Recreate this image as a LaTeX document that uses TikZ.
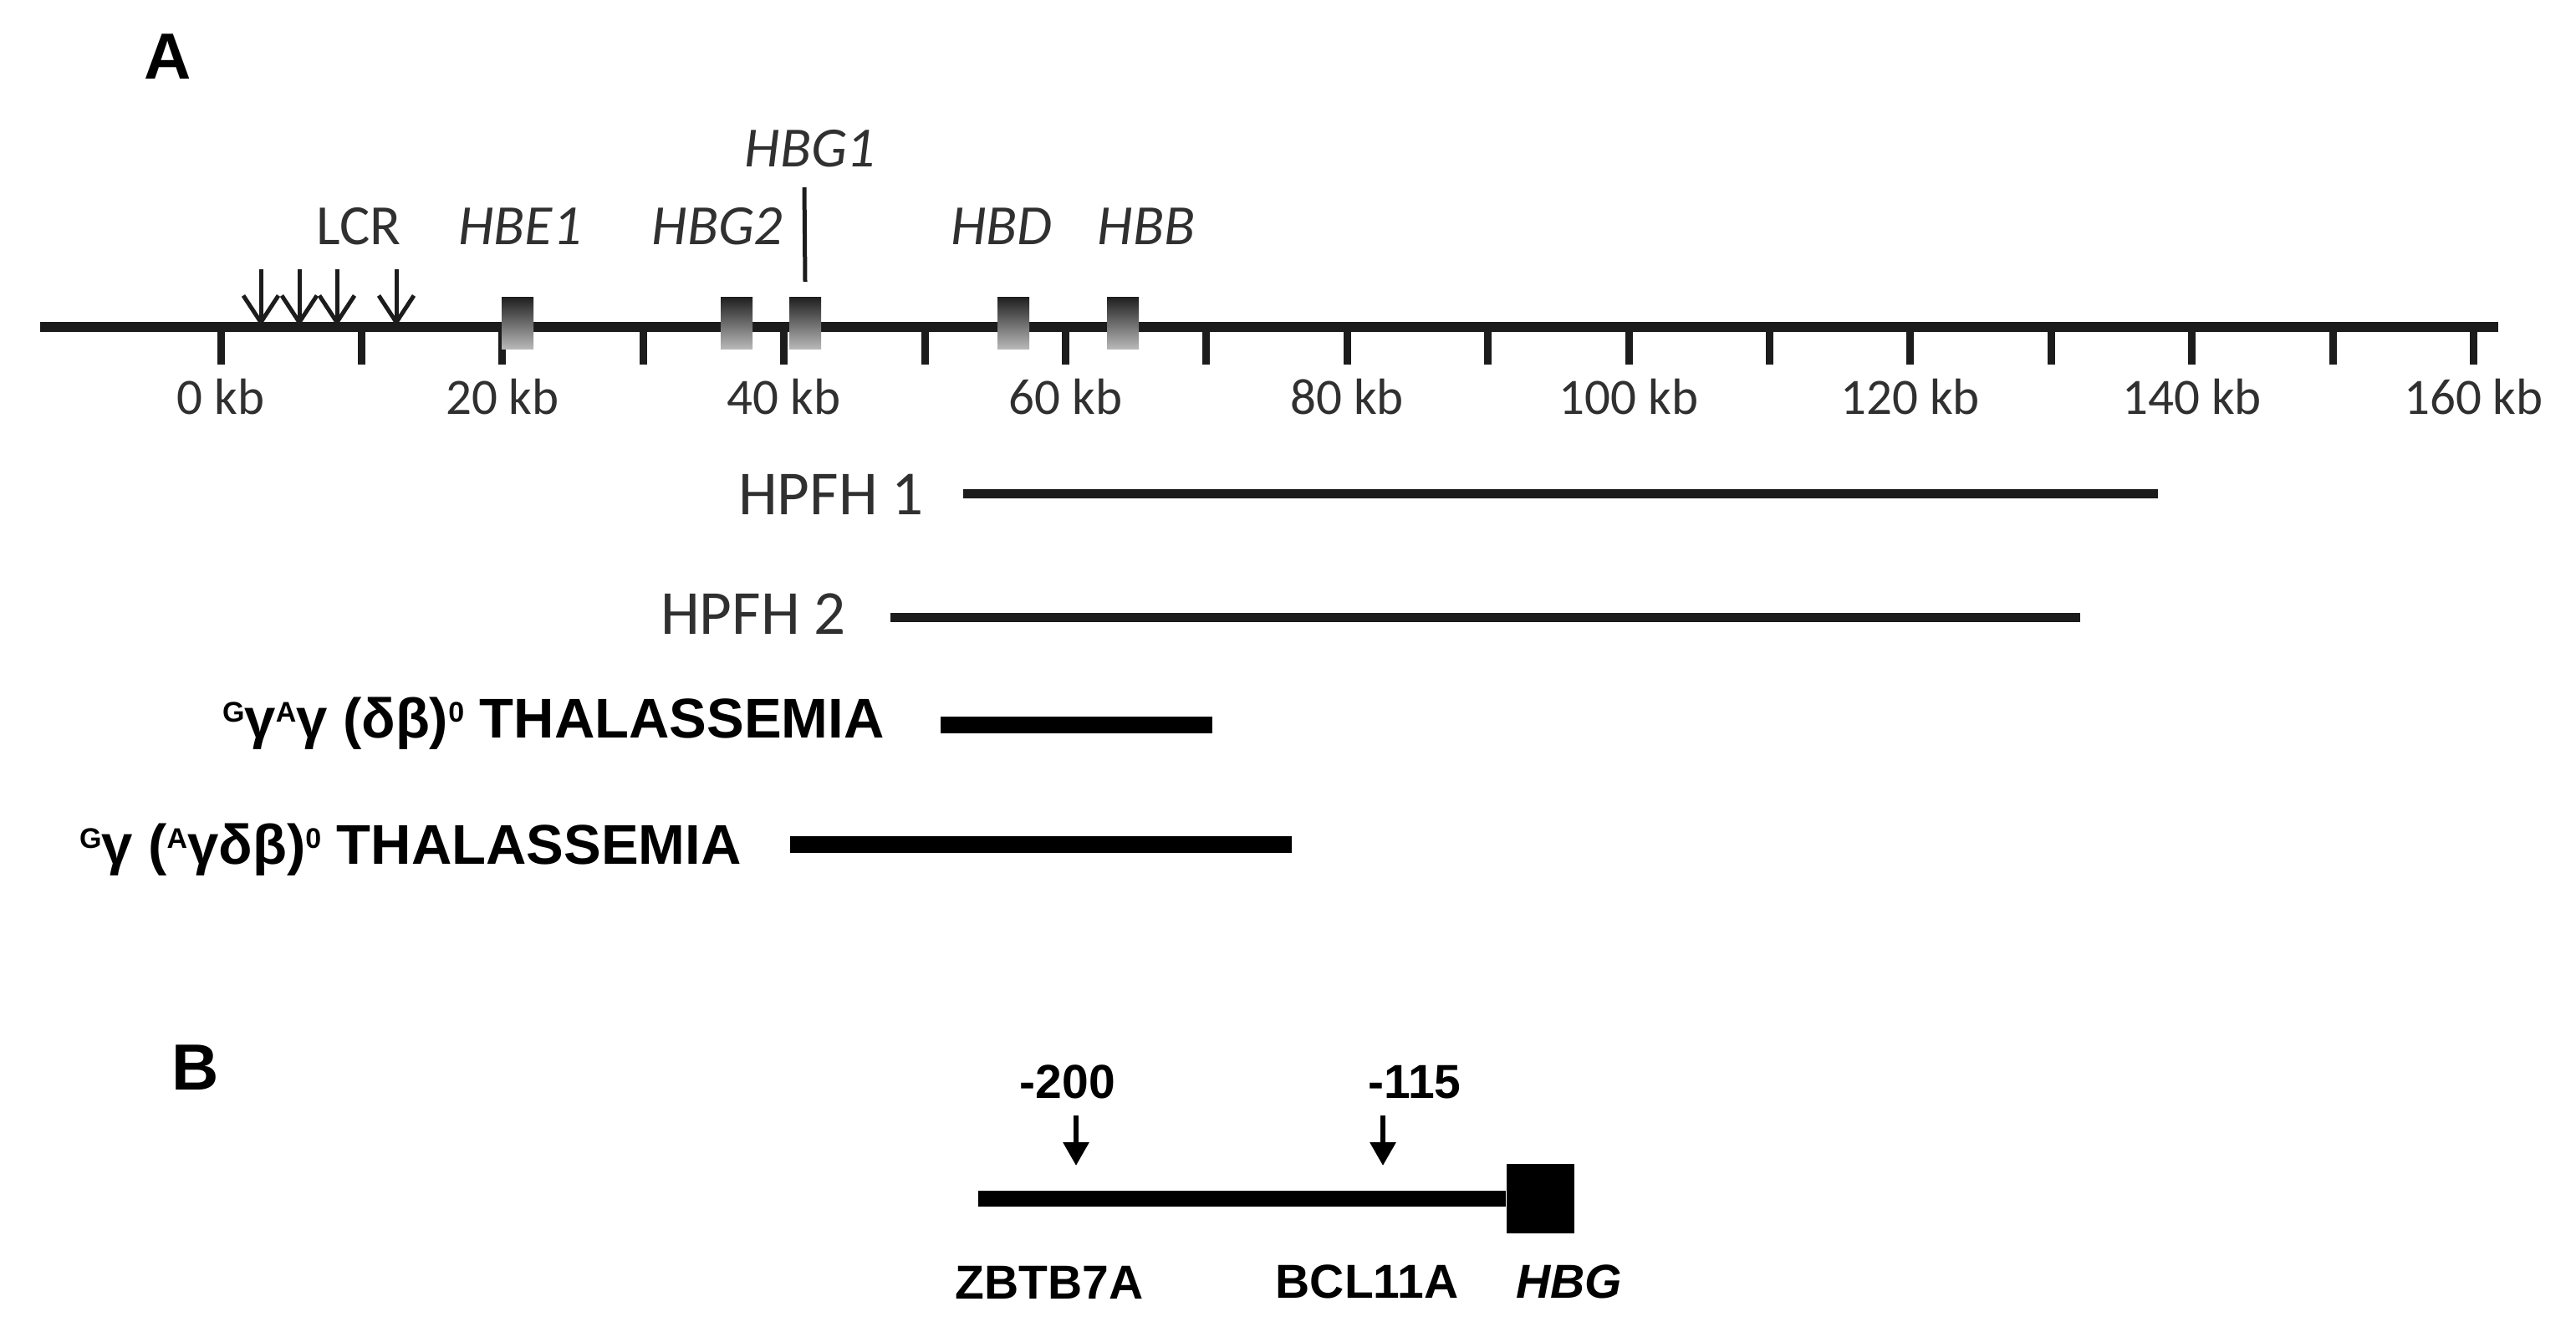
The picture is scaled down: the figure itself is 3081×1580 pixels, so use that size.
\documentclass[tikz,border=0pt]{standalone}
\usepackage{fontspec}
\setmainfont{Liberation Sans}
\newfontfamily\calfont{Carlito}
\usepackage{tikz}
\usetikzlibrary{arrows.meta,positioning}
\definecolor{inkgray}{HTML}{1C1C1C}
\definecolor{textgray}{HTML}{303030}
\newcommand\sptext[1]{\raisebox{19pt}{\fontsize{34}{34}\selectfont #1}}
\tikzset{
 panel letter/.style={font=\bfseries\fontsize{78}{84}\selectfont,anchor=base,inner sep=0pt},
 axis line/.style={line width=12pt,inkgray},
 axis tick/.style={line width=9pt,inkgray},
 gene box/.style={rectangle,minimum width=38pt,minimum height=62pt,inner sep=0pt,
                  top color=black!88,bottom color=black!28,draw=none},
 gene label/.style={font=\calfont\itshape\fontsize{68}{72}\selectfont,text=textgray,
                    anchor=base,inner sep=0pt},
 gene stem/.style={line width=5pt,inkgray},
 kb label/.style={font=\calfont\fontsize{61}{66}\selectfont,text=textgray,anchor=base,inner sep=0pt},
 lcr arrow/.style={line width=5pt,inkgray,-{Straight Barb[length=32pt,width=42pt,line width=5pt]}},
 span line/.style={line width=11pt,inkgray},
 span label/.style={font=\calfont\fontsize{75}{80}\selectfont,text=textgray,anchor=base east,inner sep=0pt},
 deletion line/.style={line width=20pt,black},
 thal label/.style={font=\bfseries\fontsize{67}{72}\selectfont,anchor=base east,inner sep=0pt},
 promoter line/.style={line width=19pt,black},
 hbg box/.style={rectangle,fill=black,minimum width=81pt,minimum height=83pt,inner sep=0pt},
 site label/.style={font=\bfseries\fontsize{57}{62}\selectfont,anchor=base,inner sep=0pt},
 site arrow/.style={line width=6pt,black,-{Triangle[length=28pt,width=30pt]}}
}
\begin{document}
\begin{tikzpicture}[x=1pt,y=-1pt]
 \useasboundingbox (0,0) rectangle (3081,1580);
 \node[panel letter] (pa) at (201,94) {A};
 \node[panel letter] (pb) at (234,1303) {B};

 % beta-globin locus, 0 kb at x=264, 16.84pt per kb
 \coordinate (axl) at (48,391);
 \coordinate (axr) at (2988,391);
 \draw[axis line] (axl)--(axr);
 \foreach \k in {0,...,16}
   \draw[axis tick] (264+168.4*\k,391)--(264+168.4*\k,436);
 \foreach \k in {0,20,...,160}
   \node[kb label] (kb\k) at (264+16.84*\k,495) {\k\ kb};

 \node[gene box] (hbe1) at (619,386) {};
 \node[gene box] (hbg2) at (881,386) {};
 \node[gene box] (hbg1) at (963,386) {};
 \node[gene box] (hbd) at (1212,386) {};
 \node[gene box] (hbb) at (1343,386) {};

 \node[gene label] (lcr) at (429,292) {\upshape LCR};
 \node[gene label] (lhbe1) at (622,292) {HBE1};
 \node[gene label] (lhbg2) at (858,292) {HBG2};
 \node[gene label] (lhbg1) at (969,199) {HBG1};
 \node[gene label] (lhbd) at (1198,292) {HBD};
 \node[gene label] (lhbb) at (1371,292) {HBB};
 \coordinate (stemtop) at (962,224);
 \draw[gene stem] (stemtop)--([yshift=18pt]hbg1.north);

 \foreach \x [count=\i] in {312,358,403,474}{
   \coordinate (lcrtop\i) at (\x,322);
   \coordinate (lcrtip\i) at (\x,390);
   \draw[lcr arrow] (lcrtop\i)--(lcrtip\i);
 }

 % deletions
 \coordinate (h1s) at (1152,590);
 \coordinate (h1e) at (2581,590);
 \draw[span line] (h1s)--(h1e);
 \node[span label] (h1l) at (1105,615) {HPFH 1};
 \coordinate (h2s) at (1065,738);
 \coordinate (h2e) at (2488,738);
 \draw[span line] (h2s)--(h2e);
 \node[span label] (h2l) at (1012,758) {HPFH 2};

 \coordinate (t1s) at (1125,867);
 \coordinate (t1e) at (1450,867);
 \draw[deletion line] (t1s)--(t1e);
 \node[thal label] (t1l) at (1058,882) {\sptext{G}γ\sptext{A}γ (δβ)\sptext{0} THALASSEMIA};
 \coordinate (t2s) at (945,1010);
 \coordinate (t2e) at (1545,1010);
 \draw[deletion line] (t2s)--(t2e);
 \node[thal label] (t2l) at (887,1033) {\sptext{G}γ (\sptext{A}γδβ)\sptext{0} THALASSEMIA};

 % HBG promoter
 \node[hbg box] (hbgbox) at (1842,1433) {};
 \coordinate (prom) at (1170,1433);
 \draw[promoter line] (prom)--(hbgbox.west);
 \node[site label] (s200) at (1277,1313) {-200};
 \node[site label] (s115) at (1692,1313) {-115};
 \coordinate (a200top) at (1287,1334);
 \coordinate (a200tip) at (1287,1394);
 \coordinate (a115top) at (1654,1334);
 \coordinate (a115tip) at (1654,1394);
 \draw[site arrow] (a200top)--(a200tip);
 \draw[site arrow] (a115top)--(a115tip);
 \node[site label] (zbtb) at (1255,1553) {ZBTB7A};
 \node[site label] (bcl) at (1635,1552) {BCL11A};
 \node[site label,font=\bfseries\itshape\fontsize{57}{62}\selectfont] (hbg) at (1877,1552) {HBG};
\end{tikzpicture}
\end{document}
